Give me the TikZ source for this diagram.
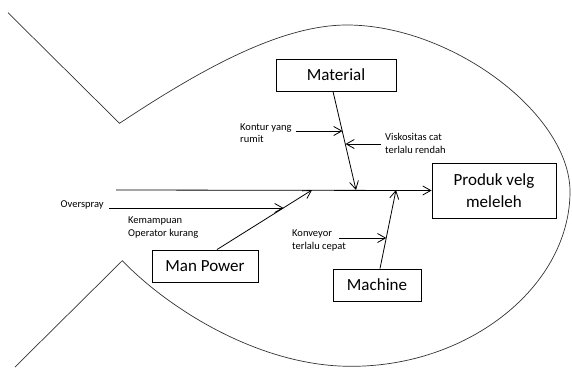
\documentclass[tikz,border=0pt]{standalone}
\usepackage{fontspec}
\setmainfont{Carlito}
\usetikzlibrary{arrows.meta}
\begin{document}
\begin{tikzpicture}[x=1pt,y=-1pt,
  box/.style={draw=black,line width=0.9pt,inner sep=0pt,align=center,
    font=\fontsize{17}{22}\selectfont},
  cause/.style={inner sep=0pt,anchor=west,align=left,
    font=\fontsize{10.5}{12.5}\selectfont},
  link/.style={line width=0.8pt,-{Straight Barb[length=8pt,width=9pt]}},
  outline/.style={line width=0.7pt,black!80}]
\useasboundingbox (0,0) rectangle (572,367);

% fish body with the tail notches
\draw[outline] (8,12.7) -- (119.5,123.3)
  .. controls (200,70) and (280,25) .. (347,25)
  .. controls (450,25) and (568,112) .. (570,190)
  .. controls (571,285) and (470,367) .. (350,366.3)
  .. controls (260,366) and (170,310) .. (122.3,260.7)
  -- (15,367);

% category boxes and the effect
\node[box,minimum width=120pt,minimum height=32pt] (mat) at (336,75) {Material};
\node[box,minimum width=124pt,minimum height=55pt] (prod) at (494,190.5) {Produk velg\\meleleh};
\node[box,minimum width=106pt,minimum height=32pt] (man) at (205,266) {Man Power};
\node[box,minimum width=88pt,minimum height=32pt] (mac) at (377,285) {Machine};

% spine
\coordinate (tail) at (116,190);
\draw[link] (tail) -- (prod.west);

% branches into the spine
\coordinate (mj) at (356,190);
\coordinate (pj) at (312,190);
\coordinate (cj) at (396,190);
\draw[link] ([xshift=-3pt]mat.south) -- (mj);
\draw[link] ([xshift=12pt]man.north) -- (pj);
\draw[link] ([xshift=3pt]mac.north) -- (cj);

% causes
\node[cause] (ovs) at (60.5,205) {Overspray};
\node[cause] (kem) at (128,227.5) {Kemampuan\\Operator kurang};
\node[cause] (kon) at (240,133) {Kontur yang\\rumit};
\node[cause] (vis) at (385,143.5) {Viskositas cat\\terlalu rendah};
\node[cause] (kvy) at (292,240.5) {Konveyor\\terlalu cepat};

\coordinate (ovsA) at (109,208);   \coordinate (ovsB) at (283.5,208);
\coordinate (konA) at (296,131);   \coordinate (konB) at (342.5,131);
\coordinate (visA) at (381,144);   \coordinate (visB) at (345.5,144);
\coordinate (kvyA) at (339,238);   \coordinate (kvyB) at (386.3,238);
\draw[link] (ovsA) -- (ovsB);
\draw[link] (konA) -- (konB);
\draw[link] (visA) -- (visB);
\draw[link] (kvyA) -- (kvyB);
\end{tikzpicture}
\end{document}
